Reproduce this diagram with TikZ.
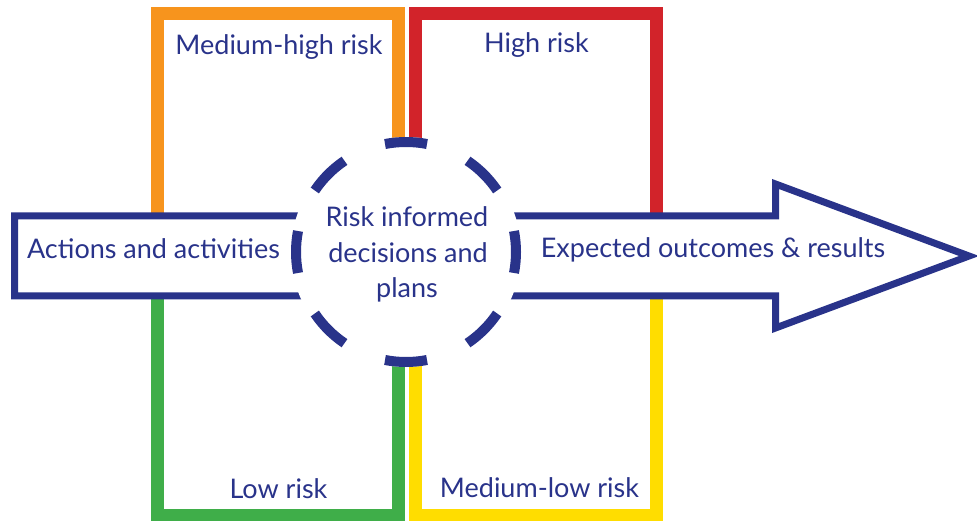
\documentclass[tikz,border=0pt]{standalone}
\usepackage{fontspec}
\setmainfont{Lato}
\usetikzlibrary{calc}
\definecolor{navy}{HTML}{29338A}
\definecolor{rorange}{HTML}{F7941D}
\definecolor{rred}{HTML}{D2232A}
\definecolor{rgreen}{HTML}{3FAE49}
\definecolor{ryellow}{HTML}{FFDD00}
\tikzset{
  riskbox/.style={line width=13pt, line join=miter},
  arrowshape/.style={draw=navy, fill=white, line width=7pt, line join=miter, miter limit=10},
  dashline/.style={draw=navy, line width=10pt, line cap=butt},
  lbl/.style={text=navy, font=\fontsize{27}{32}\selectfont, anchor=base, inner sep=0pt},
}
\begin{document}
\begin{tikzpicture}[x=1pt,y=-1pt]
\useasboundingbox (0,0) rectangle (977,521);
% risk boxes
\draw[riskbox, rorange] (157.5,13.5) rectangle (398.5,256);
\draw[riskbox, rred] (415.5,13.5) rectangle (656.5,256);
\draw[riskbox, rgreen] (157.5,256) rectangle (398.5,515);
\draw[riskbox, ryellow] (415.5,256) rectangle (656.5,515);
% big arrow
\draw[arrowshape] (14.5,216) -- (775.5,216) -- (775.5,184) -- (969,256) -- (775.5,328) -- (775.5,296) -- (14.5,296) -- cycle;
% central circle
\node[circle, fill=white, minimum size=230pt, inner sep=0pt] (c) at (406,252) {};
\foreach \k in {0,...,7}{
  \draw[dashline] ($(c.center)+(\k*45-11:110)$) arc[start angle=\k*45-11, end angle=\k*45+11, radius=110];
}
% labels
\node[lbl] (mh) at (279,55) {Medium-high risk};
\node[lbl] (hi) at (536.5,53) {High risk};
\node[lbl] (lo) at (278.5,498) {Low risk};
\node[lbl] (ml) at (539.5,497) {Medium-low risk};
\node[lbl] (act) at (153.5,259) {Actions and activities};
\node[lbl] (exp) at (713,258) {Expected outcomes \& results};
\node[lbl] (r1) at (407,227) {Risk informed};
\node[lbl] (r2) at (408,263) {decisions and};
\node[lbl] (r3) at (407,298) {plans};
\end{tikzpicture}
\end{document}
